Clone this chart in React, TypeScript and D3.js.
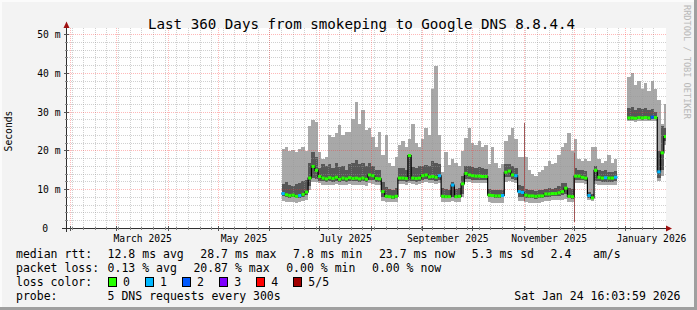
import React from 'react';
import * as d3 from 'd3';

const W = 697;
const H = 310;
const DAY = 86400000;
const END = Date.UTC(2026, 0, 24, 16, 4);
const START = END - 360 * DAY;
const SAMPLE_START = Date.UTC(2025, 5, 8);
const SAMPLE_STEP = 2 * DAY;

// median rtt (ms), per 2-day sample
const median: (number | null)[] = [
  9.0, 8.7, 8.5, 8.6, 8.3, 8.5, 8.8, 9.4, 13.0, 16.0, 15.0, 13.4, 13.0, 12.8, 13.1, 12.9, 13.2, 12.7, 13.0, 12.8,
  13.1, 12.9, 13.0, 12.8, 13.0, 12.7, 13.8, 13.6, 12.9, 12.8, 9.5, 8.3, 8.2, 8.1, 8.3, 13.0, 13.0, 12.9, 18.8, 13.0,
  12.9, 13.0, 13.6, 13.8, 13.3, 13.4, 13.2, 13.6, 8.3, 8.2, 8.2, 11.2, 8.2, 8.3, 11.5, 14.2, 13.8, 13.6, 13.5, 13.5,
  13.4, 13.4, 8.6, 8.5, 8.4, 8.4, 8.5, 14.5, 14.8, 13.8, 13.6, 9.5, 9.3, 8.6, 8.4, 8.4, 8.3, 8.4, 8.4, 8.9,
  8.9, 9.0, 9.0, 9.2, 9.5, 10.4, 8.3, 8.2, 13.5, 13.5, 13.2, 13.0, 8.5, 7.9, 15.0, 13.2, 13.0, 13.1, 13.0, 13.0,
  13.2, null, null, null, 28.5, 28.5, 28.4, 28.6, 28.5, 28.6, 28.5, 28.7, 28.6, 14.6, 19.5, 23.7,
];

// inner (dark) smoke band
const darkTop: (number | null)[] = [
  11.5, 12.0, 11.2, 11.0, 11.5, 11.8, 12.3, 12.5, 17.0, 19.8, 18.5, 15.6, 16.5, 16.0, 16.5, 15.5, 16.9, 15.8, 16.2, 15.0,
  16.5, 17.0, 17.7, 16.5, 17.0, 16.2, 16.8, 16.0, 15.2, 15.0, 12.0, 10.8, 10.2, 10.0, 10.5, 15.6, 15.5, 15.0, 19.2, 15.8,
  15.5, 16.0, 16.2, 16.4, 16.0, 17.5, 17.0, 16.5, 10.4, 10.3, 10.0, 12.0, 10.2, 10.5, 13.5, 16.0, 16.2, 15.8, 15.5, 15.8,
  15.6, 15.4, 10.2, 10.0, 10.0, 9.8, 10.0, 16.5, 16.5, 16.0, 15.5, 11.2, 11.0, 10.2, 10.0, 9.8, 9.6, 9.8, 10.0, 10.2,
  10.4, 10.3, 10.5, 11.0, 11.7, 11.7, 10.5, 10.2, 15.6, 15.2, 15.0, 14.8, 9.5, 9.0, 16.0, 15.0, 14.8, 15.0, 14.6, 14.5,
  14.8, null, null, null, 31.0, 31.4, 30.5, 31.0, 30.8, 31.0, 30.5, 30.8, 30.0, 20.0, 26.5, 26.0,
];
const darkBottom: (number | null)[] = [
  8.3, 8.0, 7.9, 8.0, 7.8, 7.9, 8.2, 8.6, 11.0, 13.0, 12.8, 12.2, 12.2, 12.0, 12.2, 12.1, 12.3, 12.0, 12.2, 12.1,
  12.3, 12.2, 12.2, 12.0, 12.2, 12.0, 12.6, 12.5, 12.1, 12.0, 8.0, 7.8, 7.8, 7.7, 7.8, 12.2, 12.2, 12.1, 12.3, 12.2,
  12.1, 12.2, 12.6, 12.8, 12.4, 12.5, 12.3, 12.6, 7.9, 7.8, 7.8, 8.0, 7.8, 7.9, 9.0, 12.8, 12.8, 12.6, 12.5, 12.5,
  12.4, 12.4, 8.1, 8.0, 7.9, 7.9, 8.0, 13.2, 13.4, 12.8, 12.6, 8.2, 8.2, 7.9, 7.8, 7.8, 7.7, 7.8, 7.8, 8.2,
  8.2, 8.3, 8.3, 8.4, 8.6, 8.8, 7.8, 7.7, 12.6, 12.6, 12.4, 12.2, 7.9, 7.6, 12.2, 12.2, 12.0, 12.1, 12.0, 12.0,
  12.2, null, null, null, 28.0, 28.0, 27.9, 28.1, 28.0, 28.1, 28.0, 28.2, 28.1, 13.0, 15.0, 22.5,
];

// outer (light) smoke band
const smokeTop: (number | null)[] = [
  20.5, 21.0, 20.0, 20.2, 19.8, 20.5, 21.0, 20.0, 26.5, 28.0, 27.5, 19.8, 18.0, 18.5, 24.0, 23.5, 24.5, 26.7, 24.0, 24.8,
  25.0, 28.3, 32.7, 27.0, 30.5, 25.5, 26.0, 23.5, 21.0, 25.0, 19.0, 24.0, 17.0, 16.0, 18.5, 21.5, 22.5, 21.0, 23.0, 27.0,
  22.0, 21.0, 23.0, 26.0, 24.0, 36.0, 42.0, 24.0, 14.6, 19.7, 16.4, 18.0, 17.0, 16.0, 20.0, 23.3, 26.0, 22.0, 21.5, 22.5,
  21.0, 21.5, 16.5, 21.0, 17.0, 15.5, 16.5, 22.5, 24.0, 26.0, 23.0, 18.5, 18.5, 18.5, 15.0, 14.0, 13.5, 14.5, 15.0, 16.0,
  17.5, 16.5, 17.0, 19.0, 21.0, 22.0, 24.5, 20.0, 23.0, 18.0, 17.5, 18.0, 17.5, 21.0, 21.0, 18.0, 17.0, 17.5, 19.0, 17.0,
  18.0, null, null, null, 39.0, 40.0, 37.0, 38.0, 36.0, 37.5, 35.5, 38.0, 36.0, 33.0, 27.0, 32.0,
];
const smokeBottom: (number | null)[] = [
  7.2, 6.9, 6.8, 6.9, 6.7, 6.9, 7.1, 7.4, 10.0, 12.0, 12.0, 11.8, 11.3, 11.2, 11.2, 11.3, 11.4, 11.1, 11.3, 11.2,
  11.4, 11.3, 11.2, 11.1, 11.3, 11.0, 11.6, 11.5, 11.2, 11.1, 7.2, 6.9, 6.8, 6.8, 6.9, 11.5, 11.4, 11.3, 11.6, 11.4,
  11.3, 11.4, 11.8, 12.0, 11.6, 11.6, 11.5, 11.7, 6.9, 6.8, 6.8, 7.0, 6.8, 6.9, 8.0, 12.0, 11.9, 11.8, 11.7, 11.7,
  11.6, 11.6, 6.8, 6.7, 6.6, 6.6, 6.7, 12.0, 12.2, 12.0, 11.8, 7.0, 7.0, 6.8, 6.7, 6.7, 6.6, 6.7, 6.8, 7.2,
  7.2, 7.3, 7.3, 7.3, 7.4, 7.6, 6.9, 6.8, 11.8, 11.8, 11.6, 11.5, 7.3, 7.2, 11.4, 11.3, 11.2, 11.2, 11.1, 11.2,
  11.3, null, null, null, 27.6, 27.7, 27.5, 27.7, 27.6, 27.7, 27.6, 27.8, 27.6, 12.3, 13.5, 21.5,
];

// lost pings (of 5) per sample
const loss: number[] = [
  1, 0, 0, 0, 0, 1, 0, 0, 0, 0, 0, 0, 0, 0, 0, 0, 0, 0, 0, 0,
  0, 0, 0, 0, 0, 0, 0, 0, 0, 0, 0, 0, 0, 0, 0, 0, 0, 0, 0, 0,
  0, 0, 0, 0, 0, 0, 0, 1, 0, 0, 0, 1, 0, 0, 0, 0, 0, 0, 0, 0,
  0, 0, 0, 0, 0, 0, 1, 0, 0, 0, 1, 1, 1, 0, 0, 0, 0, 0, 0, 0,
  0, 0, 0, 0, 0, 0, 0, 0, 0, 0, 0, 0, 1, 0, 0, 0, 0, 1, 0, 0,
  1, 0, 0, 0, 0, 0, 0, 0, 0, 0, 0, 2, 0, 1, 0, 0,
];

// narrow spikes
const spikeDates = [Date.UTC(2025, 10, 1), Date.UTC(2025, 11, 1)];
const spikeTop = [27.3, 19.5];
const spikeBottom = [7.0, 1.8];

const yTicks = [0, 10, 20, 30, 40, 50];
const yTickLabels = ['0', '10 m', '20 m', '30 m', '40 m', '50 m'];
const xLabelMonths = [
  Date.UTC(2025, 2, 1), Date.UTC(2025, 4, 1), Date.UTC(2025, 6, 1),
  Date.UTC(2025, 8, 1), Date.UTC(2025, 10, 1), Date.UTC(2026, 0, 1),
];

const lossLabels = ['0', '1', '2', '3', '4', '5/5'];
const lossColors = ['#26ff00', '#00b8ff', '#0059ff', '#7e00ff', '#ff0000', '#a10000'];

const titleText = 'Last 360 Days from smokeping to Google DNS 8.8.4.4';
const rttLabel = 'median rtt:';
const rttItems = ['12.8 ms avg', '28.7 ms max', '7.8 ms min', '23.7 ms now', '5.3 ms sd', '2.4'];
const rttUnit = 'am/s';
const lossLabel = 'packet loss:';
const lossItems = ['0.13 % avg', '20.87 % max', '0.00 % min', '0.00 % now'];
const colorLabel = 'loss color:';
const probeLabel = 'probe:';
const probeText = '5 DNS requests every 300s';
const stampText = 'Sat Jan 24 16:03:59 2026';

const FONT = "'DejaVu Sans Mono', monospace";
const LEG_FS = 11.5;
const CHAR_W = LEG_FS * 0.602;
const TAB_X = 107.6;
const GAP = 16.6;

function flow(items: string[], start: number): number[] {
  const xs: number[] = [];
  let cx = start;
  for (const s of items) {
    xs.push(cx);
    cx += s.length * CHAR_W + GAP;
  }
  return xs;
}

export default function App() {
  const x = d3.scaleUtc().domain([new Date(START), new Date(END)]).range([66.5, 665]);
  const y = d3.scaleLinear().domain([0, 51.55]).range([228.5, 28.5]);
  const n = median.length;
  const tx = (i: number) => x(new Date(SAMPLE_START + i * SAMPLE_STEP));
  const px = (v: number) => Math.round(v);

  const plotL = 67, plotR = 666, plotT = 28, plotB = 228.5;

  const sundays = d3.utcSunday.range(new Date(START), new Date(END));
  const months = d3.utcMonth.range(new Date(START), new Date(END));
  const minorY = d3.range(2, 52, 2).filter((v) => v % 10 !== 0);
  const majorY = [10, 20, 30, 40, 50];

  const runs: [number, number][][] = [];
  let cur: [number, number][] = [];
  for (let i = 0; i < n; i++) {
    const m = median[i];
    if (m == null) {
      if (cur.length) runs.push(cur);
      cur = [];
      continue;
    }
    cur.push([tx(i), y(m)]);
    if (i === n - 1 || median[i + 1] == null) cur.push([tx(i + 1), y(m)]);
  }
  if (cur.length) runs.push(cur);
  const stepLine = d3.line<[number, number]>().x((d) => d[0]).y((d) => d[1]).curve(d3.curveStepAfter);

  const rttX = flow(rttItems, TAB_X);
  const lossX = flow(lossItems, TAB_X);
  const rowY = [258, 272, 286, 300];
  const minorStroke = 'rgba(150,150,150,0.45)';
  const majorStroke = 'rgba(255,40,40,0.33)';

  return (
    <svg width={W} height={H} style={{ position: 'absolute', left: 0, top: 0, display: 'block' }} fontFamily={FONT}>
      <defs>
        <clipPath id="plotclip">
          <rect x={plotL} y={plotT} width={plotR - plotL} height={plotB - plotT} />
        </clipPath>
      </defs>
      <rect x={0} y={0} width={W} height={H} fill="#f3f3f3" />
      <rect x={0} y={0} width={W} height={2} fill="#fbfbfb" />
      <rect x={0} y={0} width={2} height={H} fill="#fbfbfb" />
      <rect x={W - 3} y={0} width={3} height={H} fill="#9f9f9f" />
      <rect x={0} y={H - 3} width={W} height={3} fill="#9f9f9f" />

      <rect x={plotL} y={plotT} width={plotR - plotL} height={plotB - plotT} fill="#ffffff" />

      <g clipPath="url(#plotclip)">
        {median.map((m, i) =>
          smokeTop[i] == null || smokeBottom[i] == null ? null : (
            <rect key={'s' + i} x={px(tx(i))} width={px(tx(i + 1)) - px(tx(i))}
              y={y(smokeTop[i] as number)} height={y(smokeBottom[i] as number) - y(smokeTop[i] as number)}
              fill="#a8a8a8" shapeRendering="crispEdges" />
          )
        )}
        {median.map((m, i) =>
          darkTop[i] == null || darkBottom[i] == null ? null : (
            <rect key={'d' + i} x={px(tx(i))} width={px(tx(i + 1)) - px(tx(i))}
              y={y(darkTop[i] as number)} height={y(darkBottom[i] as number) - y(darkTop[i] as number)}
              fill="#575757" shapeRendering="crispEdges" />
          )
        )}
        {spikeDates.map((d, k) => (
          <line key={'sp' + k} x1={Math.floor(x(new Date(d))) + 0.5} x2={Math.floor(x(new Date(d))) + 0.5}
            y1={y(spikeTop[k])} y2={y(spikeBottom[k])} stroke="#8e6262" strokeWidth={1} shapeRendering="crispEdges" />
        ))}
      </g>

      <g shapeRendering="crispEdges">
        {sundays.map((d, k) => (
          <line key={'wg' + k} x1={Math.floor(x(d)) + 0.5} x2={Math.floor(x(d)) + 0.5} y1={plotT} y2={plotB}
            stroke={minorStroke} strokeDasharray="1,1" />
        ))}
        {minorY.map((v) => (
          <line key={'hg' + v} x1={plotL} x2={plotR} y1={Math.floor(y(v)) + 0.5} y2={Math.floor(y(v)) + 0.5}
            stroke={minorStroke} strokeDasharray="1,1" />
        ))}
        {months.map((d, k) => (
          <line key={'mg' + k} x1={Math.floor(x(d)) + 0.5} x2={Math.floor(x(d)) + 0.5} y1={plotT} y2={plotB}
            stroke={majorStroke} strokeDasharray="1,1" />
        ))}
        {majorY.map((v) => (
          <line key={'Hg' + v} x1={plotL} x2={plotR} y1={Math.floor(y(v)) + 0.5} y2={Math.floor(y(v)) + 0.5}
            stroke={majorStroke} strokeDasharray="1,1" />
        ))}
      </g>

      <g clipPath="url(#plotclip)">
        {runs.map((r, k) => (
          <path key={'ml' + k} d={stepLine(r) || ''} fill="none" stroke="#000" strokeWidth={1.2} />
        ))}
        {median.map((m, i) =>
          m == null ? null : (
            <rect key={'mc' + i} x={tx(i)} width={tx(i + 1) - tx(i)} y={y(m) - 1.5} height={3}
              fill={lossColors[loss[i]]} />
          )
        )}
      </g>

      <g shapeRendering="crispEdges" stroke="#303030">
        <line x1={62} x2={668} y1={228.5} y2={228.5} />
        <line x1={66.5} x2={66.5} y1={232} y2={25} />
        {sundays.map((d, k) => (
          <line key={'wt' + k} x1={Math.floor(x(d)) + 0.5} x2={Math.floor(x(d)) + 0.5} y1={227} y2={230} stroke="#888" />
        ))}
        {months.map((d, k) => (
          <line key={'mt' + k} x1={Math.floor(x(d)) + 0.5} x2={Math.floor(x(d)) + 0.5} y1={226} y2={231} stroke="#555" />
        ))}
        {minorY.map((v) => (
          <line key={'yt' + v} x1={65} x2={68} y1={Math.floor(y(v)) + 0.5} y2={Math.floor(y(v)) + 0.5} stroke="#888" />
        ))}
        {majorY.map((v) => (
          <line key={'Yt' + v} x1={64} x2={69} y1={Math.floor(y(v)) + 0.5} y2={Math.floor(y(v)) + 0.5} stroke="#555" />
        ))}
      </g>
      <path d="M666,225.5 L672,228.5 L666,231.5 Z" fill="#a01010" />
      <path d="M63.5,28 L66.5,21.5 L69.5,28 Z" fill="#a01010" />

      {yTicks.map((v, k) => (
        <text key={'yl' + v} x={v === 0 ? 48 : 60.5} y={y(v) + 3.5} fontSize={9.7} textAnchor="end" fill="#000">
          {yTickLabels[k]}
        </text>
      ))}
      {xLabelMonths.map((d, k) => {
        const mid = (x(new Date(d)) + x(d3.utcMonth.offset(new Date(d), 1))) / 2;
        return (
          <text key={'xl' + k} x={mid} y={241.5} fontSize={9.7} textAnchor="middle" fill="#000">
            {d3.utcFormat('%B %Y')(new Date(d))}
          </text>
        );
      })}
      <text transform="translate(12,131) rotate(-90)" fontSize={9.7} textAnchor="middle" fill="#000">Seconds</text>

      <text x={361.5} y={29} fontSize={14.2} textAnchor="middle" fill="#000">{titleText}</text>
      <text transform="translate(684,5) rotate(90)" fontSize={8.6} fill="#b8b8b8">RRDTOOL / TOBI OETIKER</text>

      <text x={16} y={rowY[0]} fontSize={LEG_FS} fill="#000">{rttLabel}</text>
      {rttItems.map((s, k) => (
        <text key={'r' + k} x={rttX[k]} y={rowY[0]} fontSize={LEG_FS} fill="#000">{s}</text>
      ))}
      <text x={593} y={rowY[0]} fontSize={LEG_FS} fill="#000">{rttUnit}</text>

      <text x={16} y={rowY[1]} fontSize={LEG_FS} fill="#000">{lossLabel}</text>
      {lossItems.map((s, k) => (
        <text key={'l' + k} x={lossX[k]} y={rowY[1]} fontSize={LEG_FS} fill="#000">{s}</text>
      ))}

      <text x={16} y={rowY[2]} fontSize={LEG_FS} fill="#000">{colorLabel}</text>
      {lossLabels.map((s, k) => (
        <g key={'lc' + k}>
          <rect x={108.5 + k * 37.06} y={277.5} width={8} height={9} fill={lossColors[k]} stroke="#000" strokeWidth={1} shapeRendering="crispEdges" />
          <text x={123 + k * 37.06} y={rowY[2]} fontSize={LEG_FS} fill="#000">{s}</text>
        </g>
      ))}
      <text x={16} y={rowY[3]} fontSize={LEG_FS} fill="#000">{probeLabel}</text>
      <text x={TAB_X} y={rowY[3]} fontSize={LEG_FS} fill="#000">{probeText}</text>
      <text x={680.5} y={rowY[3]} fontSize={LEG_FS} textAnchor="end" fill="#000">{stampText}</text>
    </svg>
  );
}
